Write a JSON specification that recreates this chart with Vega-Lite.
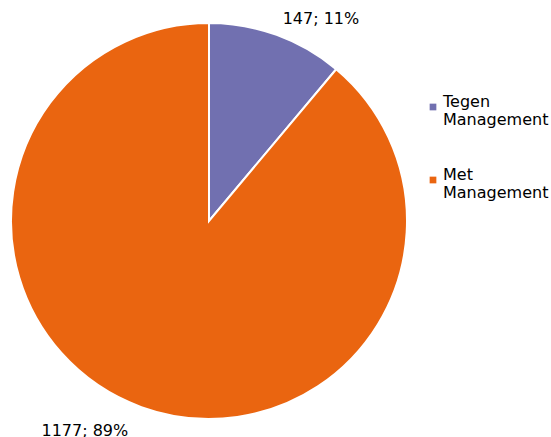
{
  "$schema": "https://vega.github.io/schema/vega-lite/v6.json",
  "width": 418,
  "height": 442,
  "padding": {"left": 0, "top": 0, "right": 133, "bottom": 0},
  "autosize": {"type": "none"},
  "background": "white",
  "view": {"stroke": null},
  "data": {"values": [
    {"cat": "Tegen Management", "n": 147, "label": "147; 11%", "o": 1},
    {"cat": "Met Management", "n": 1177, "label": "1177; 89%", "o": 2}
  ]},
  "encoding": {
    "theta": {"field": "n", "type": "quantitative", "stack": true},
    "order": {"field": "o", "type": "quantitative"}
  },
  "layer": [
    {
      "mark": {"type": "arc", "outerRadius": 198, "stroke": "white", "strokeWidth": 2},
      "encoding": {
        "color": {
          "field": "cat", "type": "nominal",
          "scale": {"domain": ["Tegen Management", "Met Management"], "range": ["#7170B0", "#EA6510"]},
          "legend": {
            "orient": "none", "legendX": 425, "legendY": 99, "title": null,
            "labelExpr": "split(datum.label, ' ')",
            "symbolType": "square", "symbolSize": 45, "symbolStrokeWidth": 0,
            "labelFont": "DejaVu Sans", "labelFontSize": 16, "labelColor": "#000000",
            "labelLineHeight": 19, "labelBaseline": "alphabetic", "labelOffset": 2,
            "rowPadding": 39, "labelLimit": 200
          }
        }
      }
    },
    {
      "mark": {"type": "text", "radius": 231, "thetaOffset": 0.157, "font": "DejaVu Sans", "fontSize": 16, "color": "#000000"},
      "encoding": {"text": {"condition": {"test": "datum.o == 1", "field": "label"}, "value": ""}}
    },
    {
      "mark": {"type": "text", "radius": 244, "thetaOffset": 0.185, "font": "DejaVu Sans", "fontSize": 16, "color": "#000000"},
      "encoding": {"text": {"condition": {"test": "datum.o == 2", "field": "label"}, "value": ""}}
    }
  ]
}
